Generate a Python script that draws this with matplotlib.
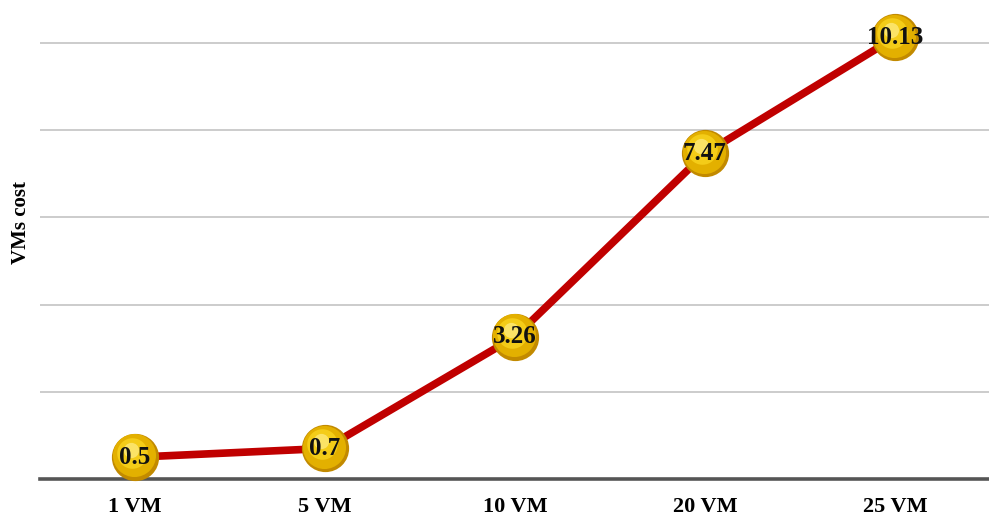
import numpy as np
import matplotlib.pyplot as plt

categories = ["1 VM", "5 VM", "10 VM", "20 VM", "25 VM"]
costs = [0.5, 0.7, 3.26, 7.47, 10.13]
grid_levels = [2, 4, 6, 8, 10]

plt.rcParams["font.family"] = ["Liberation Serif", "DejaVu Serif"]

fig = plt.figure(figsize=(9.89, 5.21), dpi=100)
ax = fig.add_axes([40 / 989, 42 / 521, 950 / 989, 479 / 521])

x = np.arange(len(categories))
for g in grid_levels:
    ax.axhline(g, color="#cccccc", linewidth=1.4, zorder=0)
ax.axhline(0, color="#555555", linewidth=2.6, zorder=1, clip_on=False)

ax.plot(x, costs, color="#c00000", linewidth=5.5, solid_capstyle="round", zorder=2)

# sphere-looking markers: dark rim, gold body, light highlight
ax.scatter(x, costs, s=34 ** 2, color="#c28a00", zorder=3, linewidths=0, clip_on=False)
ax.scatter(x - 0.006, np.array(costs) + 0.04, s=31 ** 2, color="#e3b000", zorder=4, linewidths=0, clip_on=False)
ax.scatter(x - 0.014, np.array(costs) + 0.1, s=22 ** 2, color="#f4cc18", zorder=5, linewidths=0, clip_on=False)
ax.scatter(x - 0.022, np.array(costs) + 0.17, s=11 ** 2, color="#fbe366", zorder=6, linewidths=0, clip_on=False)

for xi, c in zip(x, costs):
    ax.text(xi, c, f"{c:g}", ha="center", va="center", fontsize=18,
            fontweight="bold", color="#111111", zorder=7)

ax.set_xlim(-0.5, len(categories) - 0.5)
ax.set_ylim(0, 10.99)
ax.set_xticks(x)
ax.set_xticklabels(categories, fontsize=16, fontweight="bold")
ax.tick_params(axis="x", length=0, pad=13)
ax.set_yticks([])
ax.set_ylabel("VMs cost", fontsize=15, fontweight="bold")
ax.yaxis.set_label_coords(-0.009, 0.535)
for s in ax.spines.values():
    s.set_visible(False)

fig.savefig("out.png", dpi=100)
